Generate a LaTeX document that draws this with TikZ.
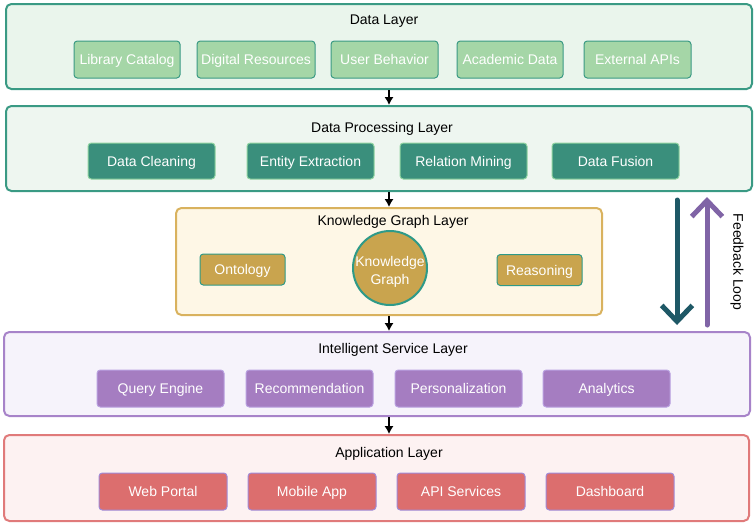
\documentclass[tikz,border=0pt]{standalone}
\usepackage{fontspec}
\setmainfont{Liberation Sans}
\usepackage{xcolor}
\usetikzlibrary{arrows.meta, positioning}

\definecolor{dataline}{HTML}{3A9A84}
\definecolor{datafill}{HTML}{EAF5EC}
\definecolor{databox}{HTML}{A5D6A7}
\definecolor{procfill}{HTML}{EEF6F0}
\definecolor{procbox}{HTML}{3A8F7C}
\definecolor{procedge}{HTML}{8FD3A0}
\definecolor{kgline}{HTML}{D9B25E}
\definecolor{kgfill}{HTML}{FEF7E6}
\definecolor{kgbox}{HTML}{C9A44E}
\definecolor{kgedge}{HTML}{2E9A88}
\definecolor{svcline}{HTML}{A783C9}
\definecolor{svcfill}{HTML}{F6F3FB}
\definecolor{svcbox}{HTML}{A57DC1}
\definecolor{svcedge}{HTML}{B9A0E0}
\definecolor{appline}{HTML}{E07A7A}
\definecolor{appfill}{HTML}{FDF2F2}
\definecolor{appbox}{HTML}{DC6E6E}
\definecolor{appedge}{HTML}{A08BD8}
\definecolor{fbdown}{HTML}{1E5866}
\definecolor{fbup}{HTML}{8064A6}

\begin{document}
\begin{tikzpicture}[x=0.75pt, y=-0.75pt,
    font=\fontsize{10.5}{12.5}\selectfont,
    layer/.style={draw, line width=1.5pt, rounded corners=4pt, minimum width=559.5pt, minimum height=63.75pt},
    title/.style={text height=9pt, text depth=0.8pt},
    item/.style={draw, line width=0.75pt, rounded corners=2.5pt, text=white, inner xsep=0pt, text height=9pt, text depth=0.8pt, minimum height=27.75pt},
    flow/.style={-{Latex[length=6pt, width=7pt]}, line width=1.5pt},
    loop/.style={-{Straight Barb[length=12pt, width=23pt]}, line width=3.75pt, line cap=round, line join=round}]
      \useasboundingbox (0,0) rectangle (755,525);

      % layers
      \node[layer, draw=dataline, fill=datafill] (data) at (379,46.5) {};
      \node[layer, draw=dataline, fill=procfill] (proc) at (379,148.5) {};
      \node[layer, draw=kgline, fill=kgfill, minimum width=319.5pt, minimum height=80.25pt] (kgl) at (389,261.5) {};
      \node[layer, draw=svcline, fill=svcfill, minimum height=63pt] (svc) at (377,374) {};
      \node[layer, draw=appline, fill=appfill, minimum width=558.75pt, minimum height=64.5pt] (app) at (376.5,478) {};

      \node[title] (datat) at (384,19.5) {Data Layer};
      \node[title] (proct) at (382,127.5) {Data Processing Layer};
      \node[title] (kglt) at (393,220.5) {Knowledge Graph Layer};
      \node[title] (svct) at (393,348.5) {Intelligent Service Layer};
      \node[title] (appt) at (389,452.5) {Application Layer};

      % data sources
      \node[item, draw=dataline, fill=databox, minimum width=79.5pt] (catalog) at (127,59.5) {Library Catalog};
      \node[item, draw=dataline, fill=databox, minimum width=88.5pt] (digital) at (256,59.5) {Digital Resources};
      \node[item, draw=dataline, fill=databox, minimum width=80.25pt] (behavior) at (384.5,59.5) {User Behavior};
      \node[item, draw=dataline, fill=databox, minimum width=79.5pt] (academic) at (510,59.5) {Academic Data};
      \node[item, draw=dataline, fill=databox, minimum width=80.25pt] (apis) at (637.5,59.5) {External APIs};

      % processing
      \node[item, draw=procedge, fill=procbox, minimum width=95.25pt, minimum height=27pt] (cleaning) at (151.5,161) {Data Cleaning};
      \node[item, draw=procedge, fill=procbox, minimum width=95.25pt, minimum height=27pt] (extraction) at (310.5,161) {Entity Extraction};
      \node[item, draw=procedge, fill=procbox, minimum width=95.25pt, minimum height=27pt] (mining) at (463.5,161) {Relation Mining};
      \node[item, draw=procedge, fill=procbox, minimum width=95.25pt, minimum height=27pt] (fusion) at (615.5,161) {Data Fusion};

      % knowledge graph
      \node[item, draw=kgedge, fill=kgbox, minimum width=63.75pt, minimum height=23.25pt] (ontology) at (242.5,269.5) {Ontology};
      \node[item, draw=kgedge, fill=kgbox, minimum width=63.75pt, minimum height=23.25pt] (reasoning) at (539.5,270) {Reasoning};
      \node[circle, draw=kgedge, line width=1.5pt, fill=kgbox, inner sep=0pt, minimum size=55.5pt,
            label={[align=center, text=white, font=\fontsize{10.5}{13.5}\selectfont, yshift=-3pt]center:Knowledge\\Graph}] (kg) at (390,268) {};

      % services
      \node[item, draw=svcedge, fill=svcbox, minimum width=95.25pt] (query) at (160.5,388.5) {Query Engine};
      \node[item, draw=svcedge, fill=svcbox, minimum width=95.25pt] (recommend) at (309.5,388.5) {Recommendation};
      \node[item, draw=svcedge, fill=svcbox, minimum width=95.25pt] (personal) at (458.5,388.5) {Personalization};
      \node[item, draw=svcedge, fill=svcbox, minimum width=95.25pt] (analytics) at (606.5,388.5) {Analytics};

      % applications
      \node[item, draw=appedge, fill=appbox, minimum width=96pt] (portal) at (163,491.5) {Web Portal};
      \node[item, draw=appedge, fill=appbox, minimum width=96pt] (mobile) at (312,491.5) {Mobile App};
      \node[item, draw=appedge, fill=appbox, minimum width=96pt] (services) at (461,491.5) {API Services};
      \node[item, draw=appedge, fill=appbox, minimum width=96pt] (dashboard) at (610,491.5) {Dashboard};

      % flow between layers
      \path[flow] (data.south -| kgl) edge (proc.north -| kgl)
                  (proc.south -| kgl) edge (kgl.north)
                  (kgl.south) edge (svc.north -| kgl)
                  (svc.south -| kgl) edge (app.north -| kgl);

      % feedback
      \coordinate (fbl) at (677,262);
      \coordinate (fbr) at (707,262);
      \draw[loop, fbdown, shorten <=6pt, shorten >=4.5pt] (proc.south -| fbl) -- (svc.north -| fbl);
      \draw[loop, fbup, shorten <=4.5pt, shorten >=3.75pt] (svc.north -| fbr) -- (proc.south -| fbr);
      \node[rotate=-90] (fblabel) at (737,262) {Feedback Loop};
\end{tikzpicture}
\end{document}
